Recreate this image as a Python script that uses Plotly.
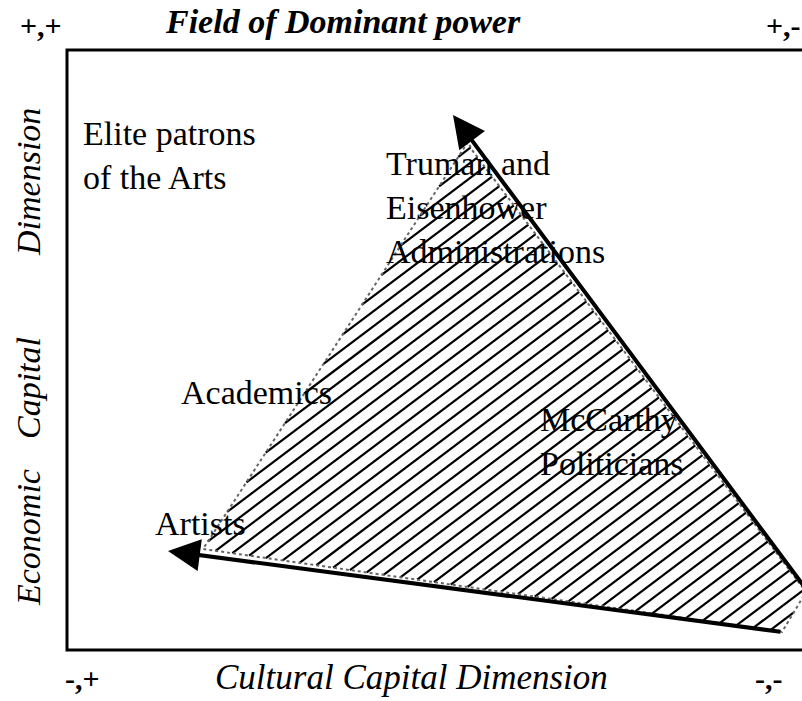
import math
import plotly.graph_objects as go

# Hatched field (region of contested power), in page-like units
field_x = [468, 203, 782, 806, 472]
field_y = [142, 549, 632, 592, 150]

# Hatch style
hatch_angle_deg = 37
hatch_step = 20  # horizontal spacing between hatch lines

# Frame of the field
frame_x = [840, 67, 67, 840]
frame_y = [50, 50, 650, 650]

# Arrows: (tail_x, tail_y, head_x, head_y)
arrows = [
    (812, 597, 453, 115),
    (782, 632, 168, 551),
]

# Text labels inside the field
labels = [
    ("Elite patrons<br>of the Arts", 81, 155),
    ("Truman and<br>Eisenhower<br>Administrations", 384, 207),
    ("Academics", 179, 392),
    ("McCarthy<br>Politicians", 538, 441),
    ("Artists", 153, 523),
]

corner_labels = [
    ("<b>+,+</b>", 41, 25),
    ("<b>+,-</b>", 783, 25),
    ("<b>-,+</b>", 82, 678),
    ("<b>-,-</b>", 768, 678),
]

title_text = "<b><i>Field of Dominant power</i></b>"
bottom_text = "<i>Cultural Capital Dimension</i>"
left_words = [("<i>Economic</i>", 538), ("<i>Capital</i>", 388), ("<i>Dimension</i>", 182)]

FONT = "Liberation Serif"


def hatch_segments(px, py, angle_deg, step):
    """Clip a family of parallel lines (rising to the right on screen) to the polygon."""
    k = math.tan(math.radians(angle_deg))
    cs = [y + k * x for x, y in zip(px, py)]
    cmin, cmax = min(cs), max(cs)
    dc = step * k
    n = len(px)
    hx, hy = [], []
    c = cmin + dc / 2
    while c < cmax:
        pts = []
        for i in range(n):
            x1, y1 = px[i], py[i]
            x2, y2 = px[(i + 1) % n], py[(i + 1) % n]
            f1 = y1 + k * x1 - c
            f2 = y2 + k * x2 - c
            if (f1 > 0) != (f2 > 0):
                t = f1 / (f1 - f2)
                pts.append((x1 + t * (x2 - x1), y1 + t * (y2 - y1)))
        pts.sort()
        for j in range(0, len(pts) - 1, 2):
            hx += [pts[j][0], pts[j + 1][0], None]
            hy += [pts[j][1], pts[j + 1][1], None]
        c += dc
    return hx, hy


hx, hy = hatch_segments(field_x, field_y, hatch_angle_deg, hatch_step)

fig = go.Figure()

fig.add_trace(go.Scatter(
    x=hx, y=hy, mode="lines",
    line=dict(width=2.2, color="black"),
    hoverinfo="skip", showlegend=False,
))
fig.add_trace(go.Scatter(
    x=field_x + field_x[:1], y=field_y + field_y[:1], mode="lines",
    line=dict(width=2, color="#666", dash="dot"),
    hoverinfo="skip", showlegend=False,
))
fig.add_trace(go.Scatter(
    x=frame_x, y=frame_y, mode="lines",
    line=dict(width=3, color="black"),
    hoverinfo="skip", showlegend=False,
))

annotations = []
for tx, ty, hx_, hy_ in arrows:
    annotations.append(dict(
        x=hx_, y=hy_, ax=tx, ay=ty, xref="x", yref="y", axref="x", ayref="y",
        showarrow=True, arrowhead=2, arrowwidth=4, arrowsize=1.6,
        arrowcolor="black", text="",
    ))

for txt, x, y in labels:
    annotations.append(dict(
        x=x, y=y, xref="x", yref="y", text=txt, showarrow=False,
        xanchor="left", yanchor="middle", align="left",
        font=dict(family=FONT, size=34, color="black"),
    ))

for txt, x, y in corner_labels:
    annotations.append(dict(
        x=x, y=y, xref="x", yref="y", text=txt, showarrow=False,
        xanchor="center", yanchor="middle",
        font=dict(family=FONT, size=30, color="black"),
    ))

annotations.append(dict(
    x=343, y=21, xref="x", yref="y", text=title_text, showarrow=False,
    xanchor="center", yanchor="middle",
    font=dict(family=FONT, size=34, color="black"),
))
annotations.append(dict(
    x=411, y=677, xref="x", yref="y", text=bottom_text, showarrow=False,
    xanchor="center", yanchor="middle",
    font=dict(family=FONT, size=35, color="black"),
))
for txt, y in left_words:
    annotations.append(dict(
        x=28, y=y, xref="x", yref="y", text=txt, showarrow=False,
        xanchor="center", yanchor="middle", textangle=-90,
        font=dict(family=FONT, size=34, color="black"),
    ))

fig.update_layout(
    width=802, height=701,
    margin=dict(l=0, r=0, t=0, b=0),
    paper_bgcolor="white", plot_bgcolor="white",
    xaxis=dict(range=[0, 802], visible=False, fixedrange=True),
    yaxis=dict(range=[701, 0], visible=False, fixedrange=True),
    annotations=annotations,
    showlegend=False,
)

fig.write_html("out.html", config={"displayModeBar": False},
               post_script="document.body.style.margin='0px';")
